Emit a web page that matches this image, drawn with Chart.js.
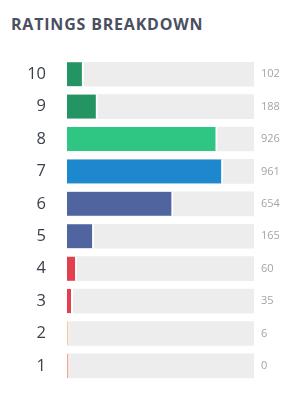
<!DOCTYPE html>
<html>
<head>
<meta charset="utf-8">
<script src="https://cdn.jsdelivr.net/npm/chart.js@4"></script>
<style>
  html,body{margin:0;padding:0;background:#fff;}
  #wrap{position:relative;width:295px;height:413px;}
  #title{position:absolute;left:11px;top:13px;font-family:"Open Sans",sans-serif;font-weight:700;font-size:16px;color:#4a5061;letter-spacing:0.8px;white-space:nowrap;}
  #c{position:absolute;left:0;top:0;}
</style>
</head>
<body>
<div id="wrap">
  <div id="title">RATINGS BREAKDOWN</div>
  <canvas id="c" width="295" height="413"></canvas>
</div>
<script>
const ratings = ["10","9","8","7","6","5","4","3","2","1"];
const counts = [102, 188, 926, 961, 654, 165, 60, 35, 6, 0];
const barColors = ["#249462","#249462","#2fc583","#1e88cf","#50659f","#50659f","#e2404f","#e2404f","#f9c7a6","#f5a594"];

const trackMax = Math.max(...counts) * 1.2;

new Chart(document.getElementById('c'), {
  type: 'bar',
  data: {
    labels: ratings,
    datasets: [
      {
        data: counts,
        backgroundColor: barColors,
        borderColor: '#ffffff',
        borderWidth: {top:0, right:2, bottom:0, left:0},
        borderSkipped: false,
        grouped: false,
        minBarLength: 2,
        barThickness: 24,
        yAxisID: 'y'
      },
      {
        data: counts.map(() => trackMax),
        backgroundColor: '#ededed',
        borderWidth: 0,
        grouped: false,
        barThickness: 24,
        yAxisID: 'y'
      }
    ]
  },
  options: {
    indexAxis: 'y',
    responsive: false,
    animation: false,
    layout: {padding: {top: 58, bottom: 17, left: 0, right: 0}},
    plugins: {legend: {display: false}, tooltip: {enabled: false}},
    scales: {
      x: {display: false, min: 0, max: trackMax},
      y: {
        position: 'left',
        grid: {display: false, drawTicks: false},
        border: {display: false},
        ticks: {color: '#3b404c', font: {family: 'Open Sans', size: 16.5}, padding: 21},
        afterFit: (s) => { s.width = 67; }
      },
      y2: {
        type: 'category',
        position: 'right',
        labels: counts.map(String),
        grid: {display: false, drawTicks: false},
        border: {display: false},
        ticks: {color: '#a4a4a4', font: {family: 'Open Sans', size: 11}, padding: 7},
        afterFit: (s) => { s.width = 41; }
      }
    }
  }
});
</script>
</body>
</html>
